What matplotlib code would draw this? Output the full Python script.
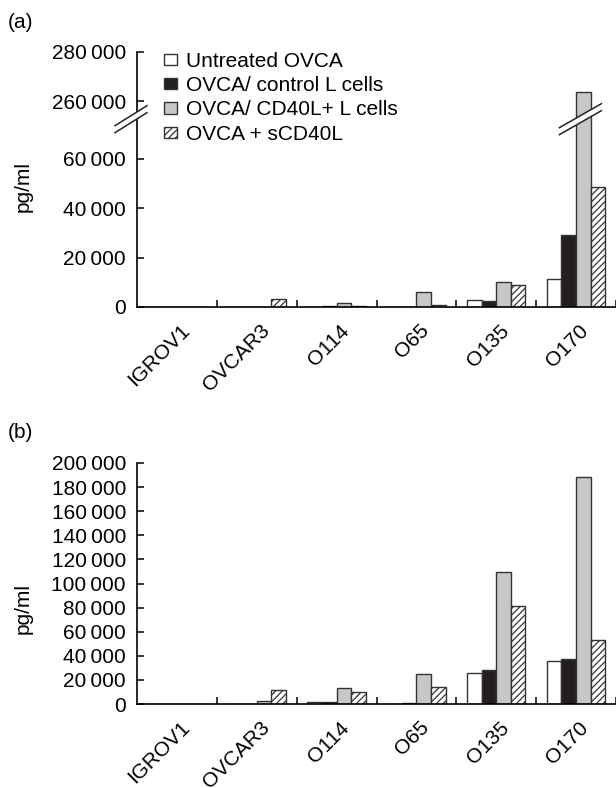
import numpy as np
import matplotlib.pyplot as plt
import matplotlib.transforms as mtrans
from matplotlib.patches import Polygon, Patch

plt.rcParams['font.family'] = ['Liberation Sans', 'DejaVu Sans']
plt.rcParams['hatch.linewidth'] = 0.9

cells = ['IGROV1', 'OVCAR3', 'O114', 'O65', 'O135', 'O170']
series = ['Untreated OVCA', 'OVCA/ control L cells', 'OVCA/ CD40L+ L cells', 'OVCA + sCD40L']

# panel (a)
a_untreated = [0, 0, 0, 0, 2700, 11500]
a_control = [0, 0, 300, 0, 2400, 29200]
a_cd40l = [0, 0, 1500, 6100, 10000, 264000]
a_scd40l = [0, 3200, 500, 700, 8800, 48600]

# panel (b)
b_untreated = [0, 0, 1300, 0, 25700, 36000]
b_control = [0, 0, 1700, 800, 28500, 37600]
b_cd40l = [0, 2500, 13000, 25200, 109300, 188400]
b_scd40l = [0, 11900, 10300, 14100, 81000, 53400]

a_ticks = [0, 20000, 40000, 60000, 260000, 280000]
b_ticks = list(range(0, 200001, 20000))

fills = ['white', '#231f20', '#c6c7c9', 'white']
hatches = [None, None, None, '/////']
edge = '#333333'
fs = 15

# broken axis for (a)
LO, HI = 76000, 253000
k = 0.001
gap = (HI - LO) * (1 - k)

def fwd(v):
    v = np.asarray(v, float)
    return np.where(v <= LO, v, np.where(v >= HI, v - gap, LO + (v - LO) * k))

def inv(u):
    u = np.asarray(u, float)
    top = LO + (HI - LO) * k
    return np.where(u <= LO, u, np.where(u >= top, u + gap, LO + (u - LO) / k))

def fmt(v):
    return '{:,}'.format(v).replace(',', '\u2009')

fig = plt.figure(figsize=(6.16, 7.88), dpi=100)
W, H = 616, 788
axA = fig.add_axes([137 / W, 1 - 307 / H, 479 / W, 255 / H])
axB = fig.add_axes([137 / W, 1 - 704 / H, 479 / W, 241 / H])

x = np.arange(len(cells))
bw = 0.183
offs = (np.arange(4) - 1.5) * bw

def draw(ax, data, ticks, ymax):
    for i, vals in enumerate(data):
        ax.bar(x + offs[i], vals, bw, color=fills[i], edgecolor=edge, linewidth=1.0,
               hatch=hatches[i], zorder=2)
    ax.set_xlim(-0.5, 5.5)
    ax.set_ylim(0, ymax)
    ax.set_yticks(ticks)
    ax.set_yticklabels([fmt(t) for t in ticks], fontsize=fs)
    ax.set_xticks(x)
    ax.set_xticklabels(cells, fontsize=fs, rotation=45, ha='right', va='top',
                       rotation_mode='anchor')
    ax.set_xticks(np.arange(0.5, 5.6, 1), minor=True)
    ax.tick_params(axis='x', which='major', length=0, pad=10)
    ax.tick_params(axis='x', which='minor', direction='in', length=5, width=1.1)
    ax.tick_params(axis='y', direction='in', length=5, width=1.1, pad=8)
    for s in ['top', 'right']:
        ax.spines[s].set_visible(False)
    for s in ['left', 'bottom']:
        ax.spines[s].set_linewidth(1.2)
    sh = mtrans.ScaledTranslation(3 / 100, 0, fig.dpi_scale_trans)
    for lab in ax.get_xticklabels():
        lab.set_transform(lab.get_transform() + sh)

axA.set_yscale('function', functions=(fwd, inv))
draw(axA, [a_untreated, a_control, a_cd40l, a_scd40l], a_ticks, 280000)
draw(axB, [b_untreated, b_control, b_cd40l, b_scd40l], b_ticks, 200000)

def brk(ax, xd, cx, w, h, sep):
    t = fig.dpi_scale_trans + mtrans.ScaledTranslation(xd, LO, ax.transData)
    p = lambda px, py: ((px + cx) / 100, py / 100)
    a1, b1 = p(-w / 2, -h / 2 + sep / 2), p(w / 2, h / 2 + sep / 2)
    a2, b2 = p(-w / 2, -h / 2 - sep / 2), p(w / 2, h / 2 - sep / 2)
    ax.add_patch(Polygon([a1, b1, b2, a2], closed=True, fc='white', ec='none',
                         transform=t, clip_on=False, zorder=5))
    for a, b in [(a1, b1), (a2, b2)]:
        ax.add_line(plt.Line2D([a[0], b[0]], [a[1], b[1]], color='#222222', lw=1.1,
                               transform=t, clip_on=False, zorder=6))

brk(axA, -0.5, -6, 32, 20, 7)
brk(axA, x[5] + offs[2], -3, 42, 24, 7)

handles = [Patch(facecolor=fills[i], edgecolor=edge, hatch=hatches[i], linewidth=1.0)
           for i in range(4)]
axA.legend(handles, series, loc='upper left', bbox_to_anchor=(164 / W, 1 - 52 / H),
           bbox_transform=fig.transFigure, frameon=False, fontsize=fs,
           handlelength=0.62, handleheight=0.45, handletextpad=0.45,
           labelspacing=0.25, borderpad=0, borderaxespad=0)

fig.text(8 / W, 1 - 22 / H, '(a)', fontsize=fs, va='center')
fig.text(8 / W, 1 - 433 / H, '(b)', fontsize=fs, va='center')
fig.text(23 / W, 1 - 187 / H, 'pg/ml', fontsize=fs, rotation=90, va='center', ha='center')
fig.text(23 / W, 1 - 608 / H, 'pg/ml', fontsize=fs, rotation=90, va='center', ha='center')

fig.savefig('out.png', dpi=100)
